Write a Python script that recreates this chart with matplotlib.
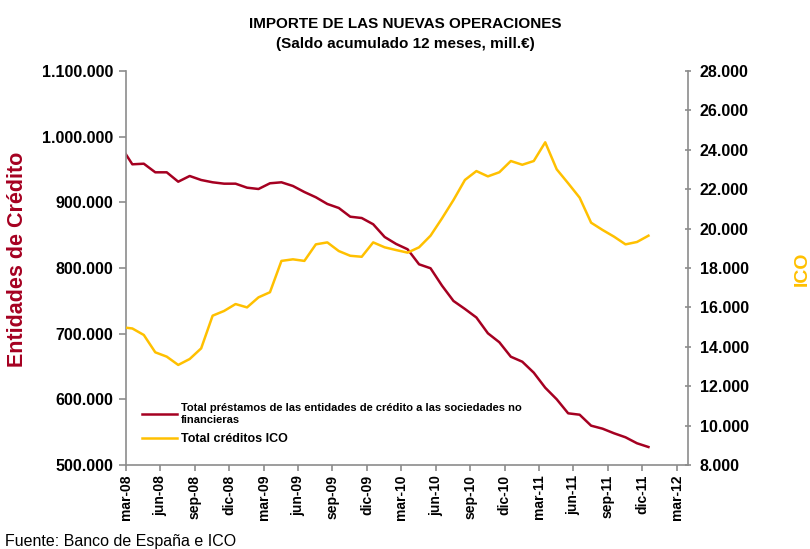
import numpy as np
import matplotlib
matplotlib.use("Agg")
import matplotlib.pyplot as plt

plt.rcParams['font.family'] = ['Liberation Sans', 'DejaVu Sans']

# monthly series, feb-08 .. dec-11 (feb-08 falls just left of the axis start)
meses = ["feb-08", "mar-08", "abr-08", "may-08", "jun-08", "jul-08", "ago-08", "sep-08",
         "oct-08", "nov-08", "dic-08", "ene-09", "feb-09", "mar-09", "abr-09", "may-09",
         "jun-09", "jul-09", "ago-09", "sep-09", "oct-09", "nov-09", "dic-09", "ene-10",
         "feb-10", "mar-10", "abr-10", "may-10", "jun-10", "jul-10", "ago-10", "sep-10",
         "oct-10", "nov-10", "dic-10", "ene-11", "feb-11", "mar-11", "abr-11", "may-11",
         "jun-11", "jul-11", "ago-11", "sep-11", "oct-11", "nov-11", "dic-11"]

entidades = [984900, 957900, 958800, 945700, 945700, 931400, 940100, 934000,
             930500, 928400, 928400, 922300, 920300, 929000, 930500, 924900,
             915700, 907700, 897500, 891400, 878100, 876100, 866600, 847200,
             836600, 828500, 805600, 799600, 773100, 749800, 737600, 724600,
             700600, 686900, 664900, 657300, 640600, 617700, 600100, 578700,
             576600, 559900, 555300, 548300, 542200, 533100, 527400]

ico = [15000, 14930, 14600, 13720, 13500, 13080, 13380, 13920,
       15580, 15820, 16170, 16000, 16510, 16770, 18360, 18440,
       18360, 19200, 19300, 18860, 18620, 18570, 19300, 19050,
       18910, 18780, 19050, 19640, 20520, 21450, 22470, 22920,
       22650, 22860, 23430, 23240, 23430, 24380, 23010, 22300,
       21570, 20300, 19930, 19590, 19200, 19320, 19640]

tick_labels = ["mar-08", "jun-08", "sep-08", "dic-08", "mar-09", "jun-09", "sep-09",
               "dic-09", "mar-10", "jun-10", "sep-10", "dic-10", "mar-11", "jun-11",
               "sep-11", "dic-11", "mar-12"]

rojo = "#A50021"
amarillo = "#FFC000"
gris = "#8C8C8C"

# month index, mar-08 tick = 0, points drawn mid-month
x = np.arange(len(meses)) - 1 + 0.55

fig = plt.figure(figsize=(8.1, 5.49), dpi=100)
ax = fig.add_axes([0.1556, 0.153, 0.6938, 0.7177])
ax2 = ax.twinx()

l1, = ax.plot(x, entidades, color=rojo, lw=1.8,
              label="Total préstamos de las entidades de crédito a las sociedades no\nfinancieras")
l2, = ax2.plot(x, ico, color=amarillo, lw=1.8, label="Total créditos ICO")

ax.set_xlim(0, 49)
ax.set_ylim(500000, 1100000)
ax2.set_ylim(8000, 28000)

ax.set_yticks(np.arange(500000, 1100001, 100000))
ax.set_yticklabels([f"{v:,}".replace(",", ".") for v in range(500000, 1100001, 100000)],
                   fontsize=11.5, fontweight="bold")
ax2.set_yticks(np.arange(8000, 28001, 2000))
ax2.set_yticklabels([f"{v:,}".replace(",", ".") for v in range(8000, 28001, 2000)],
                    fontsize=11.5, fontweight="bold")

ax.set_xticks(np.arange(0, 49, 3))
ax.set_xticklabels(tick_labels, rotation=90, fontsize=10, fontweight="bold")

for a in (ax, ax2):
    a.spines["top"].set_visible(False)
    for s in ("left", "right", "bottom"):
        a.spines[s].set_color(gris)
        a.spines[s].set_linewidth(1.2)
ax.spines["right"].set_visible(False)
ax2.spines["left"].set_visible(False)
ax2.spines["bottom"].set_visible(False)

ax.tick_params(axis="y", color=gris, length=5, width=1.2, pad=4)
ax.tick_params(axis="x", color=gris, length=4, width=1.2, pad=3)
ax2.tick_params(axis="y", color=gris, length=5, width=1.2, pad=6, direction="inout")

fig.text(0.5, 0.957, "IMPORTE DE LAS NUEVAS OPERACIONES", ha="center", va="center",
         fontsize=11, fontweight="bold")
fig.text(0.5, 0.919, "(Saldo acumulado 12 meses, mill.€)", ha="center", va="center",
         fontsize=11, fontweight="bold")

fig.text(0.022, 0.527, "Entidades de Crédito", rotation=90, ha="center", va="center",
         fontsize=15.5, fontweight="bold", color=rojo)
fig.text(0.99, 0.51, "ICO", rotation=90, ha="center", va="center",
         fontsize=14, fontweight="bold", color=amarillo)

leg = ax.legend(handles=[l1, l2], loc="lower left", bbox_to_anchor=(0.01, 0.025),
                frameon=False, prop={"size": 8, "weight": "bold"},
                handlelength=3.2, handletextpad=0.3, labelspacing=0.75)
leg.get_texts()[1].set_fontsize(9)

fig.text(0.006, 0.0, "Fuente: Banco de España e ICO", fontsize=11.5, ha="left", va="bottom")

fig.savefig("out.png", dpi=100)
